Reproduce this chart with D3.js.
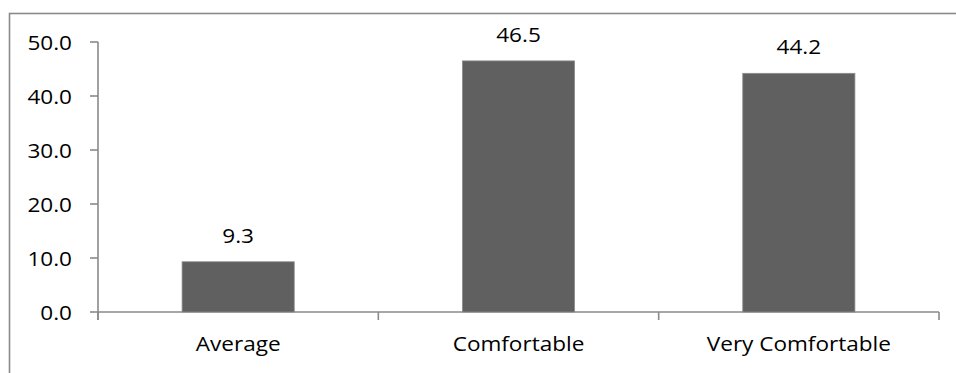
<!DOCTYPE html>
<html>
<head>
<meta charset="utf-8">
<script src="https://cdn.jsdelivr.net/npm/d3@7"></script>
<style>
  body { margin: 0; background: #fff; }
  text { font-family: "Open Sans", sans-serif; font-size: 20.5px; fill: #000; }
</style>
</head>
<body>
<script>
// values
const categories = ["Average", "Comfortable", "Very Comfortable"];
const values = [9.3, 46.5, 44.2];
const yTicks = [0, 10, 20, 30, 40, 50];

const W = 956, H = 373;
const margin = {left: 98, right: 17, top: 42, bottom: 61};
const sx = 1.1; // text in the picture is a bit wider than it is tall

const svg = d3.select("body").append("svg")
  .attr("width", W)
  .attr("height", H);

// outer frame (right & bottom edges run off the picture)
svg.append("rect")
  .attr("x", 9.5).attr("y", 13.5)
  .attr("width", W).attr("height", H)
  .attr("fill", "none")
  .attr("stroke", "#8a8a8a")
  .attr("stroke-width", 1.6);

const x = d3.scaleBand()
  .domain(categories)
  .range([margin.left, W - margin.right])
  .paddingInner(0.6)
  .paddingOuter(0.3);

const y = d3.scaleLinear()
  .domain([0, 50])
  .range([H - margin.bottom, margin.top]);

const y0 = y(0);
const edges = d3.range(categories.length + 1)
  .map(i => margin.left + i * (W - margin.right - margin.left) / categories.length);

// y axis
svg.append("line")
  .attr("x1", margin.left).attr("x2", margin.left)
  .attr("y1", y(50)).attr("y2", y0 + 8)
  .attr("stroke", "#8a8a8a").attr("stroke-width", 1.6);

svg.selectAll(".ytick")
  .data(yTicks)
  .join("line")
  .attr("x1", margin.left - 8).attr("x2", margin.left)
  .attr("y1", d => y(d)).attr("y2", d => y(d))
  .attr("stroke", "#8a8a8a").attr("stroke-width", 1.6);

svg.selectAll(".ylab")
  .data(yTicks)
  .join("text")
  .attr("text-anchor", "end")
  .attr("dominant-baseline", "central")
  .attr("transform", d => `translate(72,${y(d)}) scale(${sx},1)`)
  .text(d => d3.format(".1f")(d));

// x axis
svg.append("line")
  .attr("x1", margin.left).attr("x2", W - margin.right)
  .attr("y1", y0).attr("y2", y0)
  .attr("stroke", "#8a8a8a").attr("stroke-width", 1.6);

svg.selectAll(".xtick")
  .data(edges)
  .join("line")
  .attr("x1", d => d).attr("x2", d => d)
  .attr("y1", y0).attr("y2", y0 + 8)
  .attr("stroke", "#8a8a8a").attr("stroke-width", 1.6);

svg.selectAll(".xlab")
  .data(categories)
  .join("text")
  .attr("text-anchor", "middle")
  .attr("transform", d => `translate(${x(d) + x.bandwidth() / 2},351) scale(${sx},1)`)
  .text(d => d);

// bars
svg.selectAll(".bar")
  .data(values)
  .join("rect")
  .attr("x", (d, i) => x(categories[i]))
  .attr("y", d => y(d))
  .attr("width", x.bandwidth())
  .attr("height", d => y0 - y(d))
  .attr("fill", "#606060")
  .attr("stroke", "#8c8c8c")
  .attr("stroke-width", 0.8);

// value labels
svg.selectAll(".val")
  .data(values)
  .join("text")
  .attr("text-anchor", "middle")
  .attr("transform", (d, i) => `translate(${x(categories[i]) + x.bandwidth() / 2},${y(d) - 19}) scale(${sx},1)`)
  .text(d => d3.format(".1f")(d));
</script>
</body>
</html>
